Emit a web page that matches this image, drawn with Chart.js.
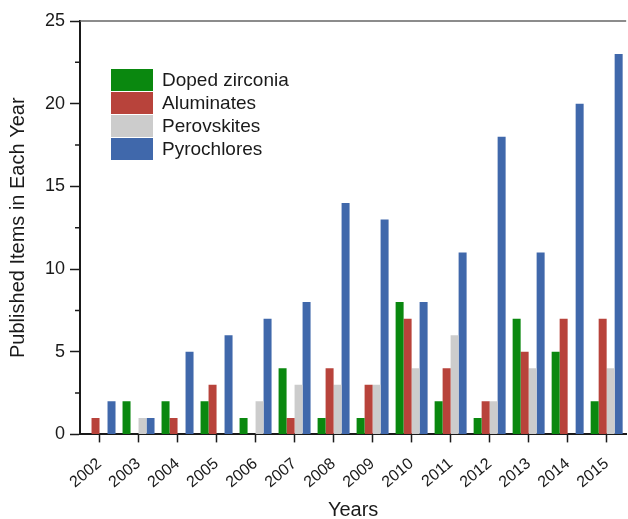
<!DOCTYPE html>
<html>
<head>
<meta charset="utf-8">
<script src="https://cdn.jsdelivr.net/npm/chart.js@4.4.1/dist/chart.umd.min.js"></script>
<style>
  html, body { margin:0; padding:0; background:#fff; overflow:hidden; }
  #wrap { position:relative; width:631px; height:519px; }
  #legend { position:absolute; left:111px; top:68px; font-family:"Liberation Sans", Arial, sans-serif;
            font-size:19px; color:#1a1a1a; }
  #legend .row { display:flex; align-items:center; height:23px; }
  #legend .box { width:42px; height:22px; margin-right:9px; }
</style>
</head>
<body>
<div id="wrap">
  <canvas id="c" width="631" height="519"></canvas>
  <div id="legend"></div>
</div>
<script>
/* donnees */
const years = ['2002','2003','2004','2005','2006','2007','2008','2009','2010','2011','2012','2013','2014','2015'];
const dopedZirconia = [0, 2, 2, 2, 1, 4, 1, 1, 8, 2, 1, 7, 5, 2];
const aluminates    = [1, 0, 1, 3, 0, 1, 4, 3, 7, 4, 2, 5, 7, 7];
const perovskites   = [0, 1, 0, 0, 2, 3, 3, 3, 4, 6, 2, 4, 0, 4];
const pyrochlores   = [2, 1, 5, 6, 7, 8, 14, 13, 8, 11, 18, 11, 20, 23];
const minorTicks    = [2.5, 7.5, 12.5, 17.5, 22.5];

const ink = '#1a1a1a';
const series = [
  { label:'Doped zirconia', data:dopedZirconia, color:'#0a880f' },
  { label:'Aluminates',     data:aluminates,    color:'#b8433b' },
  { label:'Perovskites',    data:perovskites,   color:'#cccccc' },
  { label:'Pyrochlores',    data:pyrochlores,   color:'#4068ab' },
];

/* cadre du haut + petites graduations */
const extras = {
  id:'extras',
  afterDraw(chart){
    const {ctx, chartArea:a, scales:{y}} = chart;
    ctx.save();
    ctx.strokeStyle = '#666'; ctx.lineWidth = 1.5;
    ctx.beginPath(); ctx.moveTo(a.left, a.top); ctx.lineTo(a.right, a.top); ctx.stroke();
    ctx.strokeStyle = ink; ctx.lineWidth = 1.5;
    ctx.beginPath();
    minorTicks.forEach(v => { const py = y.getPixelForValue(v); ctx.moveTo(a.left-5, py); ctx.lineTo(a.left, py); });
    ctx.stroke();
    ctx.restore();
  }
};

const font = "'Liberation Sans', Arial, sans-serif";
Chart.defaults.font.family = font;
Chart.defaults.color = ink;

new Chart(document.getElementById('c'), {
  type:'bar',
  data:{
    labels: years,
    datasets: series.map(s => ({ label:s.label, data:s.data, backgroundColor:s.color,
                                 borderWidth:0, categoryPercentage:0.82, barPercentage:1 }))
  },
  plugins:[extras],
  options:{
    responsive:false, animation:false,
    layout:{ padding:{ top:21, left:6, right:0, bottom:0 } },
    plugins:{ legend:{display:false}, tooltip:{enabled:false} },
    scales:{
      x:{
        offset:true,
        ticks:{ minRotation:40, maxRotation:40, font:{size:16}, color:ink, padding:12 },
        grid:{ drawOnChartArea:false, offset:false, tickLength:8, tickColor:ink, tickWidth:1.5 },
        border:{ color:ink, width:2 },
        title:{ display:true, text:'Years', font:{size:20, lineHeight:0.9}, color:ink, padding:{top:-3, bottom:0} }
      },
      y:{
        min:0, max:25,
        ticks:{ stepSize:5, font:{size:18}, color:ink, padding:5 },
        grid:{ drawOnChartArea:false, tickLength:10, tickColor:ink, tickWidth:1.5 },
        border:{ color:ink, width:2 },
        title:{ display:true, text:'Published Items in Each Year', font:{size:20}, color:ink, padding:{top:0, bottom:10} }
      }
    }
  }
});

/* legende HTML */
const leg = document.getElementById('legend');
series.forEach(s => {
  leg.innerHTML += `<div class="row"><span class="box" style="background:${s.color}"></span>${s.label}</div>`;
});
</script>
</body>
</html>
